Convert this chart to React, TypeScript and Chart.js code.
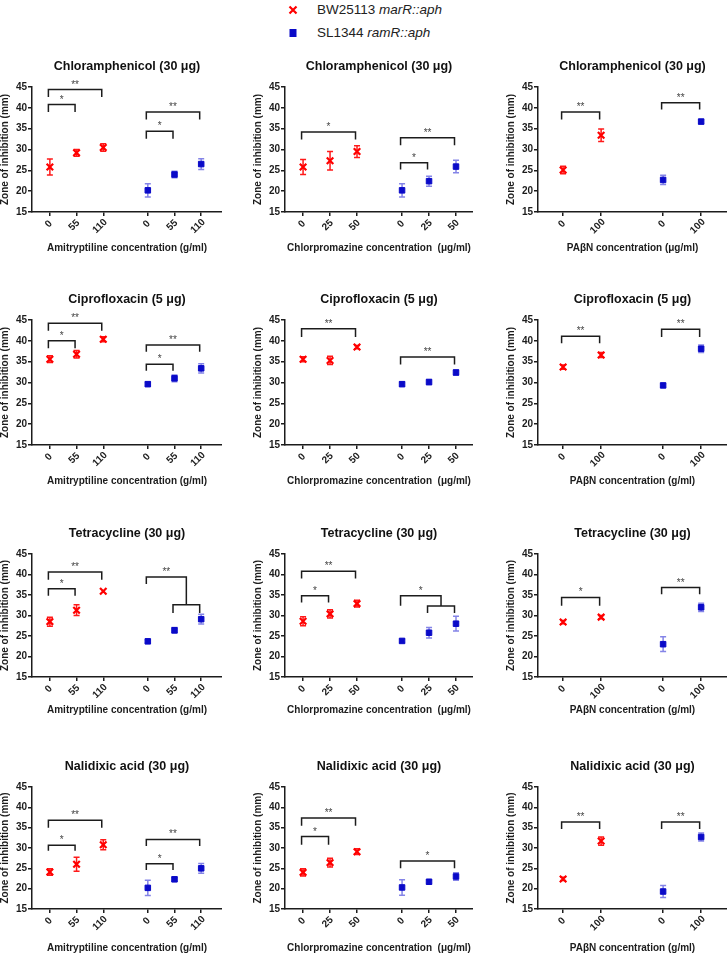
import React, { useEffect, useRef } from "react";
import { Chart, registerables } from "chart.js";

Chart.register(...registerables);

const FONT = "'Liberation Sans', Arial, Helvetica, sans-serif";
const RED = "#ff0000";
const RED_ERR = "#ff1a1a";
const BLUE = "#0a0ac8";
const BLUE_ERR = "rgba(50,50,215,0.6)";
const INK = "#1c1c1c";

// ---------- categories / tick labels ----------
const catsAmi = ["0", "55", "110"];
const catsCpz = ["0", "25", "50"];
const catsPab = ["0", "100"];

const titles = ["Chloramphenicol (30 μg)", "Ciprofloxacin (5 μg)", "Tetracycline (30 μg)", "Nalidixic acid (30 μg)"];
const xTitleAmi = "Amitryptiline concentration (g/ml)";
const xTitleCpz = "Chlorpromazine concentration  (μg/ml)";
const xTitlePabUg = "PAβN concentration (μg/ml)";
const xTitlePabG = "PAβN concentration (g/ml)";
const yTitle = "Zone of inhibition (mm)";

// ---------- Chloramphenicol ----------
const chlAmiMarR = [25.8, 29.2, 30.5];
const chlAmiMarRErr = [1.9, 0.8, 0.9];
const chlAmiRamR = [20.2, 24.0, 26.5];
const chlAmiRamRErr = [1.6, 0.8, 1.3];
const chlCpzMarR = [25.8, 27.3, 29.5];
const chlCpzMarRErr = [1.8, 2.2, 1.4];
const chlCpzRamR = [20.2, 22.4, 25.9];
const chlCpzRamRErr = [1.6, 1.2, 1.5];
const chlPabMarR = [25.1, 33.4];
const chlPabMarRErr = [0.9, 1.5];
const chlPabRamR = [22.7, 36.7];
const chlPabRamRErr = [1.1, 0.5];

// ---------- Ciprofloxacin ----------
const cipAmiMarR = [35.6, 36.8, 40.4];
const cipAmiMarRErr = [0.8, 0.9, 0.6];
const cipAmiRamR = [29.6, 31.0, 33.4];
const cipAmiRamRErr = [0.5, 0.8, 1.1];
const cipCpzMarR = [35.6, 35.3, 38.5];
const cipCpzMarRErr = [0.6, 1.0, 0.4];
const cipCpzRamR = [29.6, 30.1, 32.4];
const cipCpzRamRErr = [0.5, 0.6, 0.6];
const cipPabMarR = [33.7, 36.6];
const cipPabMarRErr = [0.5, 0.6];
const cipPabRamR = [29.3, 38.1];
const cipPabRamRErr = [0.4, 0.9];

// ---------- Tetracycline ----------
const tetAmiMarR = [28.5, 31.3, 35.9];
const tetAmiMarRErr = [1.1, 1.3, 0];
const tetAmiRamR = [23.7, 26.4, 29.1];
const tetAmiRamRErr = [0.4, 0.7, 1.2];
const tetCpzMarR = [28.6, 30.4, 32.9];
const tetCpzMarRErr = [1.1, 1.0, 0.8];
const tetCpzRamR = [23.8, 25.8, 28.0];
const tetCpzRamRErr = [0.4, 1.3, 1.8];
const tetPabMarR = [28.4, 29.6];
const tetPabMarRErr = [0.4, 0.4];
const tetPabRamR = [23.0, 32.0];
const tetPabRamRErr = [1.8, 1.0];

// ---------- Nalidixic acid ----------
const nalAmiMarR = [24.1, 26.0, 30.8];
const nalAmiMarRErr = [0.8, 1.7, 1.2];
const nalAmiRamR = [20.2, 22.3, 25.0];
const nalAmiRamRErr = [1.9, 0.5, 1.2];
const nalCpzMarR = [24.0, 26.4, 29.1];
const nalCpzMarRErr = [0.9, 1.1, 0.7];
const nalCpzRamR = [20.3, 21.7, 23.0];
const nalCpzRamRErr = [1.9, 0.4, 0.9];
const nalPabMarR = [22.4, 31.7];
const nalPabMarRErr = [0.4, 1.0];
const nalPabRamR = [19.3, 32.7];
const nalPabRamRErr = [1.5, 1.0];

// ---------- significance brackets ----------
// [group, fromIdx, toIdx, yTop, yLegEnd, label]
type Sig = [number, number, number, number, number, string];
// [group, fromIdx, subFrom, subTo, yTop, yLeftLegEnd, ySub, ySubLegEnd, label]
type Nest = [number, number, number, number, number, number, number, number, string];

const chlAmiSig: Sig[] = [[0, 0, 1, 40.8, 39.0, "*"], [0, 0, 2, 44.4, 42.6, "**"], [1, 0, 1, 34.4, 32.6, "*"], [1, 0, 2, 39.0, 37.2, "**"]];
const chlCpzSig: Sig[] = [[0, 0, 2, 34.2, 32.4, "*"], [1, 0, 1, 26.8, 25.2, "*"], [1, 0, 2, 32.8, 31.0, "**"]];
const chlPabSig: Sig[] = [[0, 0, 1, 39.0, 37.2, "**"], [1, 0, 1, 41.2, 39.6, "**"]];
const cipAmiSig: Sig[] = [[0, 0, 1, 40.0, 38.2, "*"], [0, 0, 2, 44.2, 42.4, "**"], [1, 0, 1, 34.4, 32.8, "*"], [1, 0, 2, 39.0, 37.4, "**"]];
const cipCpzSig: Sig[] = [[0, 0, 2, 42.9, 40.9, "**"], [1, 0, 2, 36.1, 34.3, "**"]];
const cipPabSig: Sig[] = [[0, 0, 1, 41.1, 39.4, "**"], [1, 0, 1, 42.8, 40.9, "**"]];
const tetAmiSig: Sig[] = [[0, 0, 1, 36.5, 34.8, "*"], [0, 0, 2, 40.6, 38.7, "**"]];
const tetAmiNest: Nest[] = [[1, 0, 1, 2, 39.4, 37.7, 32.6, 30.6, "**"]];
const tetCpzSig: Sig[] = [[0, 0, 1, 34.8, 33.2, "*"], [0, 0, 2, 40.8, 39.0, "**"]];
const tetCpzNest: Nest[] = [[1, 0, 1, 2, 34.8, 32.4, 32.3, 30.6, "*"]];
const tetPabSig: Sig[] = [[0, 0, 1, 34.4, 32.4, "*"], [1, 0, 1, 36.8, 35.2, "**"]];
const nalAmiSig: Sig[] = [[0, 0, 1, 30.7, 29.3, "*"], [0, 0, 2, 36.8, 35.0, "**"], [1, 0, 1, 26.1, 24.6, "*"], [1, 0, 2, 32.1, 30.5, "**"]];
const nalCpzSig: Sig[] = [[0, 0, 1, 32.8, 30.8, "*"], [0, 0, 2, 37.4, 35.5, "**"], [1, 0, 2, 26.8, 25.0, "*"]];
const nalPabSig: Sig[] = [[0, 0, 1, 36.4, 34.7, "**"], [1, 0, 1, 36.4, 34.7, "**"]];

// ---------- layout ----------
const ROWS = [
  { plotTop: 87, plotBottom: 212, xTitleY: 248 },
  { plotTop: 320, plotBottom: 445, xTitleY: 481 },
  { plotTop: 554, plotBottom: 677, xTitleY: 710 },
  { plotTop: 787, plotBottom: 909, xTitleY: 948 },
];
const COLS = [
  { axisX: 32, right: 222, xMin: -0.67, xMax: 6.45, gap: 3.67 },
  { axisX: 285, right: 473, xMin: -0.67, xMax: 6.3, gap: 3.67 },
  { axisX: 538, right: 727, xMin: -0.66, xMax: 4.31, gap: 2.63 },
];
const YW = 34;
const PADT = 32;

type PanelCfg = {
  title: string; xTitle: string; cats: string[];
  red: number[]; redErr: number[]; blue: number[]; blueErr: number[];
  sig: Sig[]; nest: Nest[]; row: number; col: number;
};

const panels: PanelCfg[] = [
  { title: titles[0], xTitle: xTitleAmi, cats: catsAmi, red: chlAmiMarR, redErr: chlAmiMarRErr, blue: chlAmiRamR, blueErr: chlAmiRamRErr, sig: chlAmiSig, nest: [], row: 0, col: 0 },
  { title: titles[0], xTitle: xTitleCpz, cats: catsCpz, red: chlCpzMarR, redErr: chlCpzMarRErr, blue: chlCpzRamR, blueErr: chlCpzRamRErr, sig: chlCpzSig, nest: [], row: 0, col: 1 },
  { title: titles[0], xTitle: xTitlePabUg, cats: catsPab, red: chlPabMarR, redErr: chlPabMarRErr, blue: chlPabRamR, blueErr: chlPabRamRErr, sig: chlPabSig, nest: [], row: 0, col: 2 },
  { title: titles[1], xTitle: xTitleAmi, cats: catsAmi, red: cipAmiMarR, redErr: cipAmiMarRErr, blue: cipAmiRamR, blueErr: cipAmiRamRErr, sig: cipAmiSig, nest: [], row: 1, col: 0 },
  { title: titles[1], xTitle: xTitleCpz, cats: catsCpz, red: cipCpzMarR, redErr: cipCpzMarRErr, blue: cipCpzRamR, blueErr: cipCpzRamRErr, sig: cipCpzSig, nest: [], row: 1, col: 1 },
  { title: titles[1], xTitle: xTitlePabG, cats: catsPab, red: cipPabMarR, redErr: cipPabMarRErr, blue: cipPabRamR, blueErr: cipPabRamRErr, sig: cipPabSig, nest: [], row: 1, col: 2 },
  { title: titles[2], xTitle: xTitleAmi, cats: catsAmi, red: tetAmiMarR, redErr: tetAmiMarRErr, blue: tetAmiRamR, blueErr: tetAmiRamRErr, sig: tetAmiSig, nest: tetAmiNest, row: 2, col: 0 },
  { title: titles[2], xTitle: xTitleCpz, cats: catsCpz, red: tetCpzMarR, redErr: tetCpzMarRErr, blue: tetCpzRamR, blueErr: tetCpzRamRErr, sig: tetCpzSig, nest: tetCpzNest, row: 2, col: 1 },
  { title: titles[2], xTitle: xTitlePabG, cats: catsPab, red: tetPabMarR, redErr: tetPabMarRErr, blue: tetPabRamR, blueErr: tetPabRamRErr, sig: tetPabSig, nest: [], row: 2, col: 2 },
  { title: titles[3], xTitle: xTitleAmi, cats: catsAmi, red: nalAmiMarR, redErr: nalAmiMarRErr, blue: nalAmiRamR, blueErr: nalAmiRamRErr, sig: nalAmiSig, nest: [], row: 3, col: 0 },
  { title: titles[3], xTitle: xTitleCpz, cats: catsCpz, red: nalCpzMarR, redErr: nalCpzMarRErr, blue: nalCpzRamR, blueErr: nalCpzRamRErr, sig: nalCpzSig, nest: [], row: 3, col: 1 },
  { title: titles[3], xTitle: xTitlePabG, cats: catsPab, red: nalPabMarR, redErr: nalPabMarRErr, blue: nalPabRamR, blueErr: nalPabRamRErr, sig: nalPabSig, nest: [], row: 3, col: 2 },
];

function geometry(p: PanelCfg) {
  const r = ROWS[p.row];
  const c = COLS[p.col];
  const xH = r.xTitleY - r.plotBottom + 6;
  const left = c.axisX - YW;
  const top = r.plotTop - PADT;
  const w = c.right - left;
  const h = PADT + (r.plotBottom - r.plotTop) + xH;
  return { left, top, w, h, xH };
}

function makeDecor(p: PanelCfg) {
  const c = COLS[p.col];
  const gx = (g: number, i: number) => g * c.gap + i;
  return {
    id: "decor",
    beforeDatasetsDraw(chart: any) {
      const { ctx, scales } = chart;
      const X = scales.x, Y = scales.y;
      const drawErr = (vals: number[], errs: number[], g: number, color: string) => {
        ctx.save();
        ctx.strokeStyle = color;
        ctx.lineWidth = 1.5;
        vals.forEach((v, i) => {
          const e = errs[i];
          if (!e) return;
          const px = X.getPixelForValue(gx(g, i));
          const y1 = Y.getPixelForValue(v + e);
          const y2 = Y.getPixelForValue(v - e);
          ctx.beginPath();
          ctx.moveTo(px, y1); ctx.lineTo(px, y2);
          ctx.moveTo(px - 3, y1); ctx.lineTo(px + 3, y1);
          ctx.moveTo(px - 3, y2); ctx.lineTo(px + 3, y2);
          ctx.stroke();
        });
        ctx.restore();
      };
      drawErr(p.red, p.redErr, 0, RED_ERR);
      drawErr(p.blue, p.blueErr, 1, BLUE_ERR);
    },
    afterDatasetsDraw(chart: any) {
      const { ctx, scales, chartArea } = chart;
      const X = scales.x, Y = scales.y;
      ctx.save();
      // title
      ctx.fillStyle = "#111";
      ctx.font = `bold 12.5px ${FONT}`;
      ctx.textAlign = "center";
      ctx.textBaseline = "middle";
      ctx.fillText(p.title, (chartArea.left + chartArea.right) / 2, chartArea.top - 20.5);
      // brackets
      ctx.strokeStyle = INK;
      ctx.lineWidth = 1.5;
      ctx.lineJoin = "miter";
      const star = (x: number, y: number, s: string) => {
        ctx.fillStyle = "#444";
        ctx.font = `10px ${FONT}`;
        ctx.textAlign = "center";
        ctx.textBaseline = "alphabetic";
        ctx.fillText(s, x, y - 2);
      };
      p.sig.forEach(([g, a, b, top, leg, label]) => {
        const xa = X.getPixelForValue(gx(g, a)) - 1.5;
        const xb = X.getPixelForValue(gx(g, b)) - 1.5;
        const yt = Y.getPixelForValue(top);
        const yl = Y.getPixelForValue(leg);
        ctx.beginPath();
        ctx.moveTo(xa, yl); ctx.lineTo(xa, yt); ctx.lineTo(xb, yt); ctx.lineTo(xb, yl);
        ctx.stroke();
        star((xa + xb) / 2, yt, label);
      });
      p.nest.forEach(([g, a, sa, sb, top, leg, sub, subLeg, label]) => {
        const xa = X.getPixelForValue(gx(g, a)) - 1.5;
        const x1 = X.getPixelForValue(gx(g, sa)) - 1.5;
        const x2 = X.getPixelForValue(gx(g, sb)) - 1.5;
        const xm = (x1 + x2) / 2;
        const yt = Y.getPixelForValue(top);
        const yl = Y.getPixelForValue(leg);
        const ys = Y.getPixelForValue(sub);
        const ysl = Y.getPixelForValue(subLeg);
        ctx.beginPath();
        ctx.moveTo(xa, yl); ctx.lineTo(xa, yt); ctx.lineTo(xm, yt); ctx.lineTo(xm, ys);
        ctx.moveTo(x1, ysl); ctx.lineTo(x1, ys); ctx.lineTo(x2, ys); ctx.lineTo(x2, ysl);
        ctx.stroke();
        star((xa + xm) / 2, yt, label);
      });
      // rotated x tick labels
      ctx.fillStyle = INK;
      ctx.font = `bold 10px ${FONT}`;
      ctx.textAlign = "center";
      ctx.textBaseline = "middle";
      [0, 1].forEach((g) => {
        p.cats.forEach((lab, i) => {
          const px = X.getPixelForValue(gx(g, i));
          const w = ctx.measureText(lab).width;
          ctx.save();
          ctx.translate(px - w * 0.2, chartArea.bottom + 11 + w * 0.2);
          ctx.rotate(-Math.PI / 4);
          ctx.fillText(lab, 0, 0);
          ctx.restore();
        });
      });
      ctx.restore();
    },
  };
}

function buildConfig(p: PanelCfg): any {
  const c = COLS[p.col];
  const { xH } = geometry(p);
  const xs = [...p.cats.map((_, i) => i), ...p.cats.map((_, i) => c.gap + i)];
  const axisGrid = { display: true, drawOnChartArea: false, drawTicks: true, tickLength: 4, color: INK, lineWidth: 1.5 };
  const axisBorder = { display: true, color: INK, width: 1.5 };
  return {
    type: "scatter",
    data: {
      datasets: [
        {
          label: "BW25113 marR::aph",
          data: p.red.map((v, i) => ({ x: i, y: v })),
          pointStyle: "crossRot",
          pointRadius: 4.6,
          pointBorderWidth: 2.2,
          pointBorderColor: RED,
          pointBackgroundColor: RED,
          showLine: false,
        },
        {
          label: "SL1344 ramR::aph",
          data: p.blue.map((v, i) => ({ x: c.gap + i, y: v })),
          pointStyle: "rect",
          pointRadius: 3.9,
          pointBorderWidth: 1,
          pointBorderColor: BLUE,
          pointBackgroundColor: BLUE,
          showLine: false,
        },
      ],
    },
    options: {
      animation: false,
      responsive: false,
      maintainAspectRatio: false,
      layout: { autoPadding: false, padding: { top: PADT, left: 0, right: 0, bottom: 0 } },
      plugins: { legend: { display: false }, tooltip: { enabled: false }, title: { display: false } },
      scales: {
        x: {
          type: "linear",
          bounds: "data",
          min: c.xMin,
          max: c.xMax,
          afterBuildTicks: (s: any) => { s.ticks = xs.map((v) => ({ value: v })); },
          afterFit: (s: any) => { s.height = xH; },
          ticks: { display: false },
          grid: axisGrid,
          border: axisBorder,
          title: { display: true, text: p.xTitle, color: INK, font: { family: FONT, size: 10, weight: "bold" }, padding: 0 },
        },
        y: {
          type: "linear",
          min: 15,
          max: 45,
          afterFit: (s: any) => { s.width = YW; },
          ticks: { stepSize: 5, color: INK, padding: 1, font: { family: FONT, size: 10, weight: "bold" } },
          grid: axisGrid,
          border: axisBorder,
          title: { display: true, text: yTitle, color: INK, font: { family: FONT, size: 10, weight: "bold" }, padding: { top: 1, bottom: 0 } },
        },
      },
    },
    plugins: [makeDecor(p)],
  };
}

function Panel({ cfg }: { cfg: PanelCfg }) {
  const ref = useRef<HTMLCanvasElement>(null);
  const g = geometry(cfg);
  useEffect(() => {
    const chart = new Chart(ref.current as HTMLCanvasElement, buildConfig(cfg));
    return () => chart.destroy();
  }, [cfg]);
  return (
    <canvas
      ref={ref}
      width={g.w}
      height={g.h}
      style={{ position: "absolute", left: g.left, top: g.top, width: g.w, height: g.h }}
    />
  );
}

function Legend() {
  const txt: React.CSSProperties = {
    position: "absolute", left: 317, fontFamily: FONT, fontSize: 13.5, lineHeight: "16px", color: "#222", whiteSpace: "nowrap",
  };
  return (
    <>
      <svg width={12} height={12} style={{ position: "absolute", left: 287, top: 4 }}>
        <path d="M2.5 2.5 L9.5 9.5 M9.5 2.5 L2.5 9.5" stroke={RED} strokeWidth={2.2} />
      </svg>
      <div style={{ ...txt, top: 2 }}>BW25113 <i>marR::aph</i></div>
      <svg width={12} height={12} style={{ position: "absolute", left: 287, top: 27 }}>
        <rect x={2.5} y={2} width={7} height={8} fill={BLUE} />
      </svg>
      <div style={{ ...txt, top: 25 }}>SL1344 <i>ramR::aph</i></div>
    </>
  );
}

export default function App() {
  return (
    <div style={{ position: "absolute", left: 0, top: 0, width: 727, height: 958, overflow: "hidden", background: "#fff" }}>
      <Legend />
      {panels.map((p, i) => (
        <Panel key={i} cfg={p} />
      ))}
    </div>
  );
}
